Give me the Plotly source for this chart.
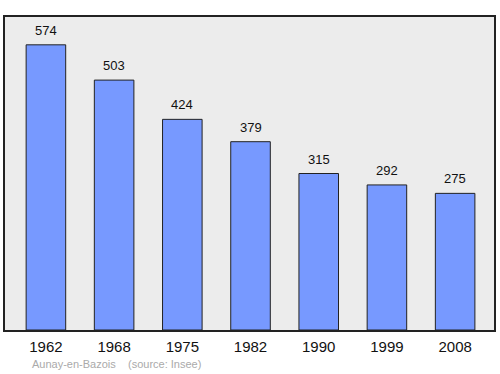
import plotly.graph_objects as go

years = ["1962", "1968", "1975", "1982", "1990", "1999", "2008"]
population = [574, 503, 424, 379, 315, 292, 275]
footer = "Aunay-en-Bazois    (source: Insee)"

FONT = "Liberation Sans, Arial, sans-serif"

fig = go.Figure()
fig.add_trace(go.Bar(
    x=list(range(len(years))), y=population,
    marker=dict(color="#7799ff", line=dict(color="#222222", width=1)),
    width=0.58, hoverinfo="skip",
))
for i, v in enumerate(population):
    fig.add_annotation(x=i, y=v, text=str(v), showarrow=False,
                       yanchor="bottom", yshift=5,
                       font=dict(size=13, color="#111111", family=FONT))
fig.add_annotation(x=25/490, y=0, xref="paper", yref="paper",
                   text=footer, showarrow=False, xanchor="left", yanchor="middle",
                   yshift=-34, font=dict(size=11, color="#aaaaaa", family=FONT))

fig.update_layout(
    width=500, height=374,
    margin=dict(l=5, r=6, t=17, b=44),
    paper_bgcolor="white", plot_bgcolor="#ececec",
    showlegend=False,
    xaxis=dict(range=[-0.6, 6.57], tickmode="array", tickvals=list(range(len(years))),
               ticktext=years, showgrid=False, zeroline=False,
               showline=True, mirror=True, linecolor="#222222", linewidth=1.5,
               ticks="outside", ticklen=2, tickcolor="rgba(0,0,0,0)",
               tickfont=dict(size=15, color="#111111", family=FONT)),
    yaxis=dict(range=[0, 630], showgrid=False, zeroline=False, showticklabels=False,
               showline=True, mirror=True, linecolor="#222222", linewidth=1.5, ticks=""),
)
fig.write_html("out.html", config={"displayModeBar": False},
               post_script="document.body.style.margin='0';")
